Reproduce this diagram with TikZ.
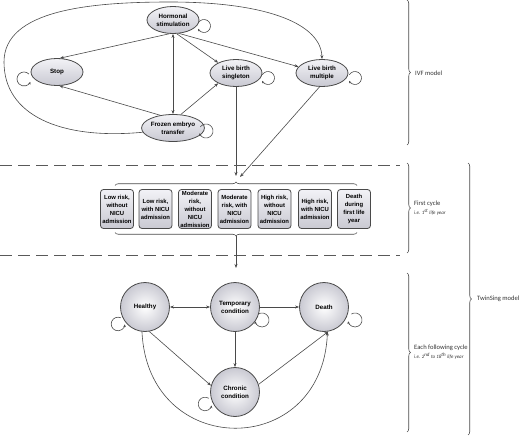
\documentclass[tikz,border=0pt]{standalone}
\usepackage{fontspec}
\setmainfont{Liberation Sans}
\newfontfamily\sidefont{Carlito}
\usetikzlibrary{shapes.geometric,arrows.meta,decorations.pathreplacing,calc}
\definecolor{edge}{HTML}{4A4A4A}
\definecolor{fillhi}{HTML}{F2F2F6}
\definecolor{filllo}{HTML}{C9C9D2}
\tikzset{
  ell/.style={ellipse,draw=edge,line width=0.8pt,minimum width=52pt,minimum height=27pt,inner sep=0pt,
    top color=fillhi,bottom color=filllo,align=center,font=\fontsize{6.2}{7.6}\selectfont\bfseries},
  bx/.style={draw=edge,line width=0.8pt,rounded corners=3pt,minimum width=33pt,minimum height=39pt,inner sep=0pt,
    top color=fillhi,bottom color=filllo,align=center,font=\fontsize{5.9}{8}\selectfont\bfseries},
  crc/.style={circle,draw=edge,line width=0.8pt,minimum size=49pt,inner sep=0pt,
    inner color=white,outer color=filllo,align=center,font=\fontsize{6.2}{7.8}\selectfont\bfseries},
  arr/.style={draw=edge,line width=0.6pt,-{Stealth[length=4pt,width=3pt]}},
  darr/.style={draw=edge,line width=0.6pt,{Stealth[length=4pt,width=3pt]}-{Stealth[length=4pt,width=3pt]}},
  loopst/.style={draw=edge,line width=0.6pt,-{Stealth[length=2.5pt,width=2.5pt]}},
  dsh/.style={draw=gray!70!black,line width=1pt,dash pattern=on 12pt off 6pt},
  brc/.style={draw=edge,line width=0.6pt,decorate,decoration={brace,amplitude=3.5pt}},
  sidelab/.style={anchor=west,inner sep=0pt,text=black!80,font=\sidefont\fontsize{6.6}{8}\selectfont},
  sublab/.style={anchor=west,inner sep=0pt,text=black!80,font=\sidefont\itshape\fontsize{5}{6}\selectfont},
}
\begin{document}
\begin{tikzpicture}[x=1pt,y=1pt]
\useasboundingbox (0,0) rectangle (520,-436);
% IVF model nodes
\node[ell] (hs) at (173,-20) {Hormonal\\stimulation};
\node[ell] (st) at (57,-72) {Stop};
\node[ell] (fe) at (173,-128) {Frozen embryo\\transfer};
\node[ell] (ls) at (236,-73) {Live birth\\singleton};
\node[ell] (lm) at (322,-73) {Live birth\\multiple};
% IVF connectors
\draw[arr] (hs.-105) -- (st.78);
\draw[arr] (fe.135) -- (st.-80);
\draw[darr] (hs.south) -- (fe.north);
\draw[arr] (hs.-75) -- (ls.150);
\draw[arr] (hs.-65) -- (lm.165);
\draw[arr] (fe.60) -- (ls.-150);
\draw[arr] (fe.188) .. controls (60,-140) and (4,-115) .. (4,-62)
  .. controls (4,-10) and (90,-2) .. (170,-2)
  .. controls (270,-2) and (321,-25) .. (lm.north);
% IVF self loops
\draw[loopst] ($(204,-26)+(150:6.5)$) arc[start angle=150,end angle=-155,radius=6.5];
\draw[loopst] ($(24,-79)+(45:7)$) arc[start angle=45,end angle=335,radius=7];
\draw[loopst] ($(206,-131)+(145:7)$) arc[start angle=145,end angle=-160,radius=7];
\draw[loopst] ($(268,-78)+(150:6.5)$) arc[start angle=150,end angle=-155,radius=6.5];
\draw[loopst] ($(355,-78)+(150:6.5)$) arc[start angle=150,end angle=-155,radius=6.5];
% to first cycle
\coordinate (in1) at (236,-176);
\coordinate (in2) at (240,-177);
\draw[arr] (ls.south) -- (in1);
\draw[arr] (lm.-100) -- (in2);
% dashed separators
\draw[dsh] (0,-165) -- (400,-165);
\draw[dsh] (0,-255) -- (400,-255);
% first cycle boxes
\node[bx] (b1) at (117,-209) {Low risk,\\without\\NICU\\admission};
\node[bx] (b2) at (155.5,-209) {Low risk,\\with NICU\\admission};
\node[bx] (b3) at (195,-209) {Moderate\\risk,\\without\\NICU\\admission};
\node[bx] (b4) at (234.5,-209) {Moderate\\risk, with\\NICU\\admission};
\node[bx] (b5) at (274.5,-209) {High risk,\\without\\NICU\\admission};
\node[bx] (b6) at (315,-209) {High risk,\\with NICU\\admission};
\node[bx] (b7) at (354,-209) {Death\\during\\first life\\year};
\draw[brc] (115,-185.5) -- (357,-185.5);
\draw[brc] (357,-232.5) -- (115,-232.5);
\coordinate (bt) at (236,-236);
\coordinate (tarr) at (236,-268);
\draw[arr] (bt) -- (tarr);
% following cycle
\node[crc] (h) at (145,-307) {Healthy};
\node[crc] (t) at (235,-307) {Temporary\\condition};
\node[crc] (d) at (324,-307) {Death};
\node[crc] (c) at (235,-392) {Chronic\\condition};
\draw[darr] (h.east) -- (t.west);
\draw[arr] (t.east) -- (d.west);
\draw[arr] (t.south) -- (c.north);
\draw[arr] (h.-80) -- (c.165);
\draw[arr] (c.18) -- (d.-80);
\draw[arr] (h.-97) .. controls (148,-460) and (322,-460) .. (d.-82);
% following cycle self loops
\draw[loopst] ($(118,-324)+(66:6.8)$) arc[start angle=66,end angle=356,radius=6.8];
\draw[loopst] ($(262,-320)+(121:7)$) arc[start angle=121,end angle=-169,radius=7];
\draw[loopst] ($(355,-320)+(121:7)$) arc[start angle=121,end angle=-169,radius=7];
\draw[loopst] ($(205,-404)+(57:6.8)$) arc[start angle=57,end angle=347,radius=6.8];
% right braces and labels
\draw[brc] (407,0) -- (407,-145);
\node[sidelab] (ivf) at (415,-73) {IVF model};
\draw[brc] (407,-163) -- (407,-253);
\node[sidelab] (fc) at (414,-204) {First cycle};
\node[sublab] (fcs) at (414,-212) {i.e. 1\textsuperscript{st} life year};
\draw[brc] (407,-273) -- (407,-432);
\node[sidelab] (ef) at (414,-348) {Each following cycle};
\node[sublab] (efs) at (414,-356) {i.e. 2\textsuperscript{nd} to 18\textsuperscript{th} life year};
\draw[brc] (468,-163) -- (468,-435);
\node[sidelab] (tw) at (477,-299) {TwinSing model};
\end{tikzpicture}
\end{document}
